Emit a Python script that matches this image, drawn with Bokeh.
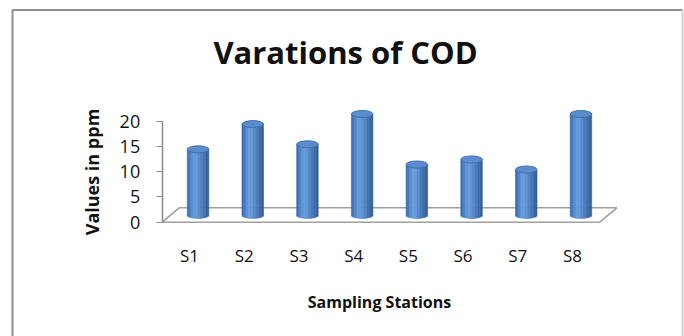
import numpy as np
from bokeh.plotting import figure
from bokeh.models import Range1d, FixedTicker, LinearAxis
from bokeh.core.properties import value
from bokeh.embed import file_html
from bokeh.resources import INLINE

# ---- data ----
stations = ["S1", "S2", "S3", "S4", "S5", "S6", "S7", "S8"]
cod_ppm = [13, 18, 14, 20, 10, 11, 9, 20]
y_ticks = [0, 5, 10, 15, 20]

# ---- page geometry (pixels); the plot frame fills the whole canvas ----
W, H = 684, 336
AXIS_X = 161.7      # column of the value axis / front-left floor corner
ZERO_Y = 221.7      # row of the value-0 front edge of the floor
PX_X = 54.7         # pixels per station slot
PX_Y = 5.05         # pixels per ppm
x0 = 0.5            # data x of the value axis


def dx(px):
    """canvas column -> data x"""
    return x0 + (px - AXIS_X) / PX_X


def dy(py):
    """canvas row -> data y"""
    return (ZERO_Y - py) / PX_Y


# 3-D look: depth of the floor; cylinders stand half way back
DEPTH_DX, DEPTH_DY = 17.0, 14.4
CYL_W, CYL_RY = 21.5, 3.5

FONT = "Open Sans"
INK = "#111111"

p = figure(width=W, height=H, output_backend="svg", toolbar_location=None,
           x_range=Range1d(dx(0), dx(W)), y_range=Range1d(dy(H), dy(0)),
           x_axis_location=None, y_axis_location=None,
           min_border=0)
p.outline_line_color = None
p.grid.visible = False
p.background_fill_color = "white"
p.border_fill_color = "white"

# outer chart border (open at the bottom)
p.line([dx(12), dx(12), dx(682)], [dy(H + 5), dy(9.5), dy(9.5)],
       line_color="#8f8f8f", line_width=2)
p.line([dx(682), dx(682)], [dy(9.5), dy(H + 5)],
       line_color="#d0d0d0", line_width=2)

# title
p.text(x=[dx(345)], y=[dy(51)], text=["Varations of COD"],
       text_font=value(FONT), text_font_size="31px", text_font_style="bold",
       text_color=INK, text_align="center", text_baseline="alphabetic")

# floor (parallelogram)
n = len(stations)
ddx = DEPTH_DX / PX_X
ddy = DEPTH_DY / PX_Y
p.patch([x0, x0 + n, x0 + n + ddx, x0 + ddx], [0, 0, ddy, ddy],
        fill_color="white", line_color="#a0a0a0", line_width=1.6)

# cylinders, shaded with vertical strips
shade = ["#3b69ab", "#4476ba", "#4f84c8", "#5a90d3", "#6299da", "#649bdb",
         "#6097d7", "#5a8ece", "#5386c6", "#4c7ebe", "#4576b5", "#3f6eab",
         "#3867a1", "#325f97"]
ns = len(shade)
xc = np.arange(1, n + 1) + (DEPTH_DX / 2) / PX_X
base = (DEPTH_DY / 2) / PX_Y
half_w = (CYL_W / 2) / PX_X
ry = CYL_RY / PX_Y
vals = np.array(cod_ppm, dtype=float)

edges = np.linspace(-1, 1, ns + 1)
for k in range(ns):
    u0, u1 = edges[k], edges[k + 1]
    um = 0.5 * (u0 + u1)
    drop = ry * np.sqrt(max(0.0, 1 - um * um))
    p.quad(left=xc + u0 * half_w, right=xc + u1 * half_w,
           bottom=base - drop, top=vals + base,
           fill_color=shade[k], line_color=shade[k], line_width=0.6)

# cylinder tops
p.ellipse(x=xc, y=vals + base, width=CYL_W, height=2 * CYL_RY,
          width_units="screen", height_units="screen",
          fill_color="#5b8dce", line_color="#4170ae", line_width=1)

# value axis, pinned at the front-left corner of the floor
yax = LinearAxis(fixed_location=x0, ticker=FixedTicker(ticks=y_ticks),
                 bounds=(0, 20))
yax.axis_line_color = "#8c8c8c"
yax.axis_line_width = 1.5
yax.major_tick_line_color = "#8c8c8c"
yax.major_tick_out = 6
yax.major_tick_in = 0
yax.minor_tick_line_color = None
yax.major_label_text_font = FONT
yax.major_label_text_font_size = "18px"
yax.major_label_text_color = INK
yax.major_label_standoff = 16
p.add_layout(yax, "left")

# station axis, pinned at the front edge of the floor
xax = LinearAxis(fixed_location=0, ticker=FixedTicker(ticks=list(range(1, n + 1))))
xax.major_label_overrides = {i + 1: s for i, s in enumerate(stations)}
xax.axis_line_color = None
xax.major_tick_line_color = None
xax.minor_tick_line_color = None
xax.major_label_text_font = FONT
xax.major_label_text_font_size = "17px"
xax.major_label_text_color = INK
xax.major_label_standoff = 16
p.add_layout(xax, "below")

# axis titles
p.text(x=[dx(379)], y=[dy(301.5)], text=["Sampling Stations"],
       text_font=value(FONT), text_font_size="16px", text_font_style="bold",
       text_color=INK, text_align="center", text_baseline="alphabetic")
p.text(x=[dx(91)], y=[dy(171.5)], text=["Values in ppm"], angle=np.pi / 2,
       text_font=value(FONT), text_font_size="18px", text_font_style="bold",
       text_color=INK, text_align="center", text_baseline="alphabetic")

open("out.html", "w").write(file_html(p, INLINE))
